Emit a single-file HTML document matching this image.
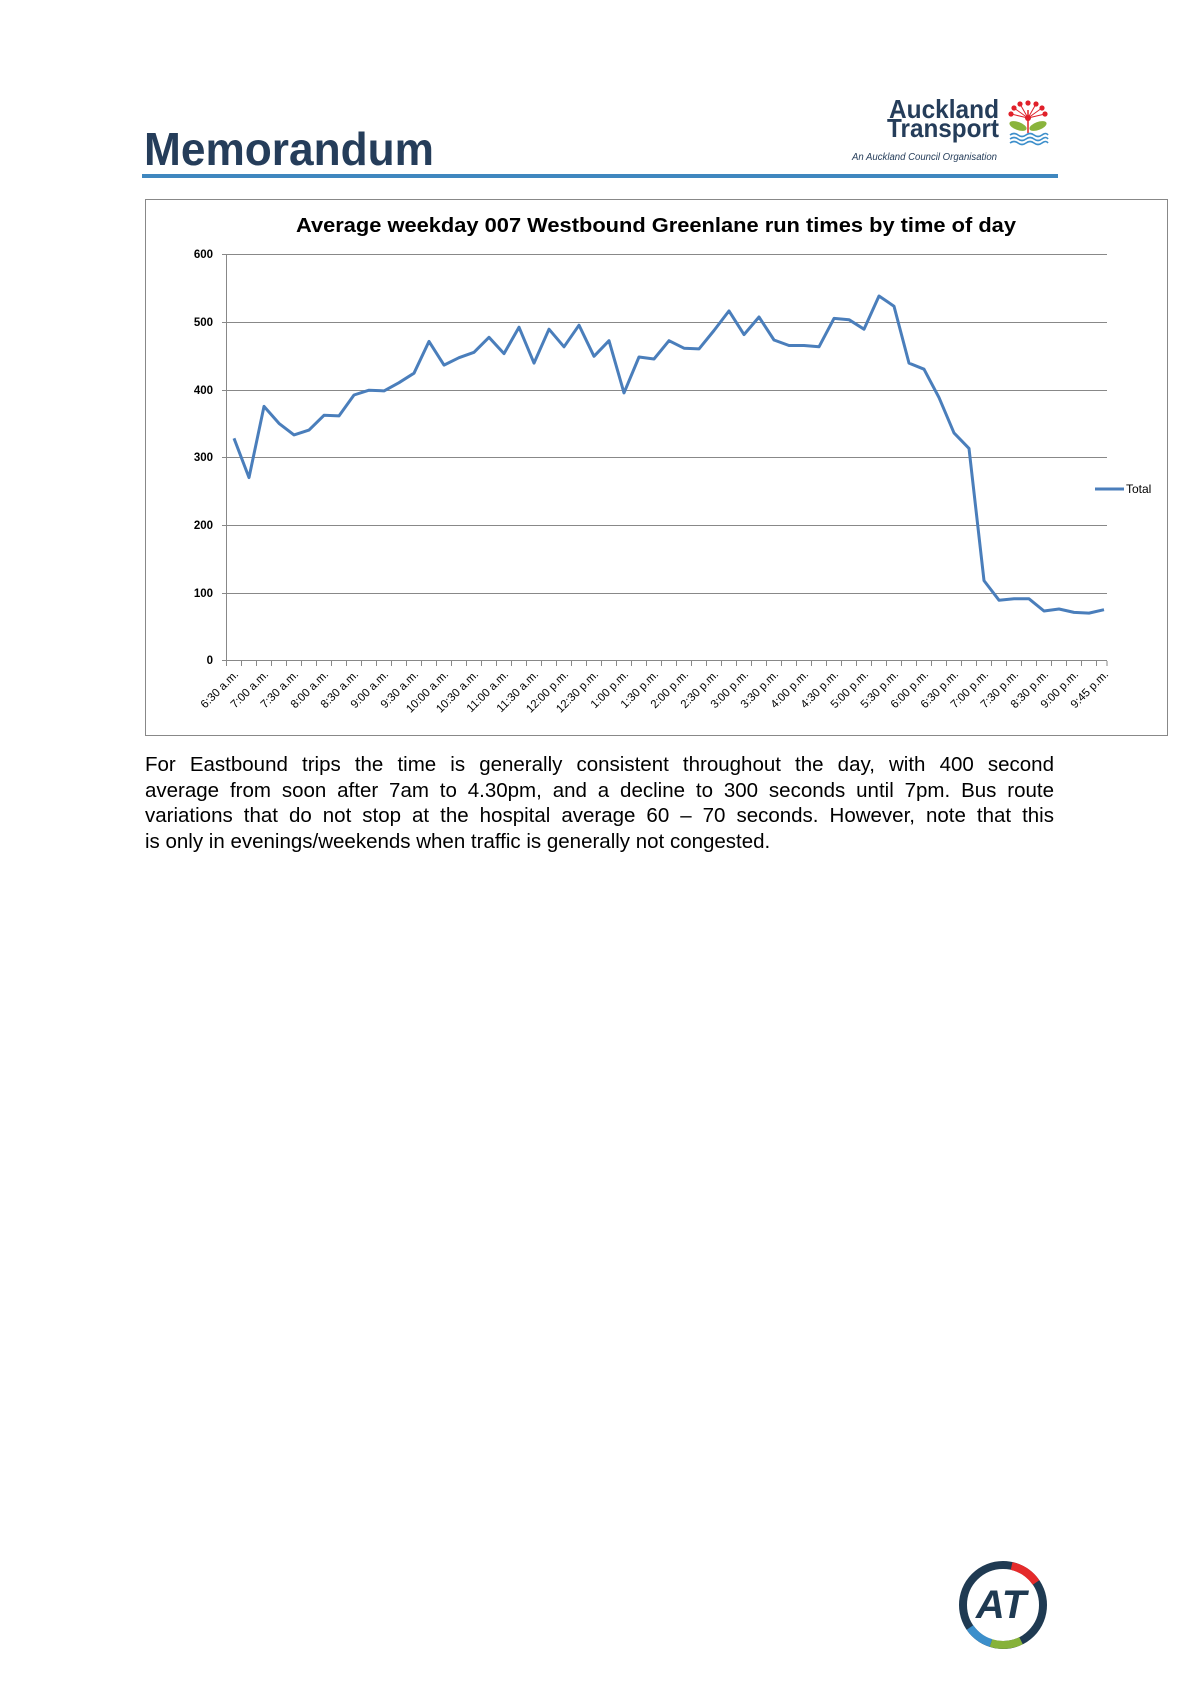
<!DOCTYPE html>
<html><head><meta charset="utf-8"><style>
html,body{margin:0;padding:0;background:#fff;}
body{width:1190px;height:1684px;position:relative;overflow:hidden;}
svg{position:absolute;left:0;top:0;}
.p{position:absolute;left:145px;top:752px;width:909px;font-family:"Liberation Sans",Arial,sans-serif;font-size:20.5px;line-height:25.6px;color:#000;}
.p span{display:block;white-space:nowrap;text-align:justify;text-align-last:justify;}
.p span.l{text-align-last:left;}
</style></head><body>
<svg width="1190" height="1684" viewBox="0 0 1190 1684" xmlns="http://www.w3.org/2000/svg" font-family="Liberation Sans, Arial, sans-serif">
<text x="144" y="165" font-size="46" font-weight="bold" fill="#253d5a" textLength="290" lengthAdjust="spacingAndGlyphs">Memorandum</text>
<rect x="142" y="174" width="916" height="4" fill="#3f87bf"/>
<text x="889" y="118" font-size="26" font-weight="bold" fill="#253d5a" textLength="110" lengthAdjust="spacingAndGlyphs">Auckland</text>
<text x="887" y="137" font-size="26" font-weight="bold" fill="#253d5a" textLength="112" lengthAdjust="spacingAndGlyphs">Transport</text>
<text x="852" y="160" font-size="10" font-style="italic" fill="#253d5a" textLength="145" lengthAdjust="spacingAndGlyphs">An Auckland Council Organisation</text>
<g>
<line x1="1028" y1="133" x2="1028" y2="110" stroke="#d22" stroke-width="1.5"/>
<g fill="#e0202a"><circle cx="1028" cy="103" r="2.6"/><circle cx="1020" cy="104" r="2.6"/><circle cx="1036" cy="104" r="2.6"/><circle cx="1014" cy="108" r="2.6"/><circle cx="1042" cy="108" r="2.6"/><circle cx="1011" cy="114" r="2.6"/><circle cx="1045" cy="114" r="2.6"/><circle cx="1028" cy="118" r="3"/></g>
<g stroke="#e0202a" stroke-width="1"><line x1="1028" y1="118" x2="1020" y2="104"/><line x1="1028" y1="118" x2="1036" y2="104"/><line x1="1028" y1="118" x2="1014" y2="108"/><line x1="1028" y1="118" x2="1042" y2="108"/><line x1="1028" y1="118" x2="1011" y2="114"/><line x1="1028" y1="118" x2="1045" y2="114"/></g>
<ellipse cx="1018" cy="126" rx="9" ry="4" fill="#8ab43c" transform="rotate(20 1018 126)"/>
<ellipse cx="1038" cy="126" rx="9" ry="4" fill="#8ab43c" transform="rotate(-20 1038 126)"/>
<g stroke="#3d8fcb" stroke-width="1.6" fill="none"><path d="M1010 135q4-3 8 0t8 0t8 0t8 0t6 0"/><path d="M1010 139q4-3 8 0t8 0t8 0t8 0t6 0"/><path d="M1010 143q4-3 8 0t8 0t8 0t8 0t6 0"/></g>
</g>
<rect x="145.5" y="199.5" width="1022" height="536" fill="none" stroke="#888" stroke-width="1"/>
<text x="656" y="232" font-size="20" font-weight="bold" text-anchor="middle" fill="#000" textLength="720" lengthAdjust="spacingAndGlyphs">Average weekday 007 Westbound Greenlane run times by time of day</text>
<g stroke="#888" stroke-width="1">
<line x1="222" y1="254.5" x2="1107" y2="254.5"/><line x1="222" y1="322.5" x2="1107" y2="322.5"/><line x1="222" y1="390.5" x2="1107" y2="390.5"/><line x1="222" y1="457.5" x2="1107" y2="457.5"/><line x1="222" y1="525.5" x2="1107" y2="525.5"/><line x1="222" y1="593.5" x2="1107" y2="593.5"/><line x1="222" y1="660.5" x2="1107" y2="660.5"/>
<line x1="226.5" y1="254" x2="226.5" y2="661"/>
</g>
<g font-size="11.5" font-weight="bold" text-anchor="end" fill="#000">
<text x="213" y="258">600</text><text x="213" y="326">500</text><text x="213" y="394">400</text><text x="213" y="461">300</text><text x="213" y="529">200</text><text x="213" y="597">100</text><text x="213" y="664">0</text>
</g>
<path stroke="#888" stroke-width="1" d="M226.5 661v5M241.5 661v5M256.5 661v5M271.5 661v5M286.5 661v5M301.5 661v5M316.5 661v5M331.5 661v5M346.5 661v5M361.5 661v5M376.5 661v5M391.5 661v5M406.5 661v5M421.5 661v5M436.5 661v5M451.5 661v5M466.5 661v5M481.5 661v5M496.5 661v5M511.5 661v5M526.5 661v5M541.5 661v5M556.5 661v5M571.5 661v5M586.5 661v5M601.5 661v5M616.5 661v5M631.5 661v5M646.5 661v5M661.5 661v5M676.5 661v5M691.5 661v5M706.5 661v5M721.5 661v5M736.5 661v5M751.5 661v5M766.5 661v5M781.5 661v5M796.5 661v5M811.5 661v5M826.5 661v5M841.5 661v5M856.5 661v5M871.5 661v5M886.5 661v5M901.5 661v5M916.5 661v5M931.5 661v5M946.5 661v5M961.5 661v5M976.5 661v5M991.5 661v5M1006.5 661v5M1021.5 661v5M1036.5 661v5M1051.5 661v5M1066.5 661v5M1081.5 661v5M1096.5 661v5M1107 661v5"/>
<polyline fill="none" stroke="#4a7ebb" stroke-width="3" stroke-linejoin="round" points="234,438.3 249,477.6 264,406.4 279,423.4 294,434.9 309,430.1 324,415.3 339,415.9 354,395 369,390.2 384,390.9 399,382.7 414,373.2 429,341.4 444,365.1 459,357.7 474,352.3 489,337.3 504,353.6 519,327.2 534,363.1 549,329.2 564,346.8 579,325.2 594,356.3 609,340.7 624,392.9 639,357 654,359 669,340.7 684,348.2 699,348.9 714,330.5 729,310.9 744,334.6 759,317 774,340 789,345.5 804,345.5 819,346.8 834,318.4 849,319.7 864,329.2 879,296 894,306.2 909,363.1 924,369.2 939,397.6 954,432.9 969,448.4 984,580.6 999,600.2 1014,598.8 1029,598.8 1044,611 1059,609 1074,612.4 1089,613.1 1104,609.7"/>
<line x1="1095" y1="489" x2="1124" y2="489" stroke="#4a7ebb" stroke-width="3"/>
<text x="1126" y="493" font-size="12" fill="#000">Total</text>
<g font-size="11.5" text-anchor="end" fill="#000">
<text transform="translate(239,675) rotate(-45)">6:30 a.m.</text>
<text transform="translate(269,675) rotate(-45)">7:00 a.m.</text>
<text transform="translate(299,675) rotate(-45)">7:30 a.m.</text>
<text transform="translate(329,675) rotate(-45)">8:00 a.m.</text>
<text transform="translate(359,675) rotate(-45)">8:30 a.m.</text>
<text transform="translate(389,675) rotate(-45)">9:00 a.m.</text>
<text transform="translate(419,675) rotate(-45)">9:30 a.m.</text>
<text transform="translate(449,675) rotate(-45)">10:00 a.m.</text>
<text transform="translate(479,675) rotate(-45)">10:30 a.m.</text>
<text transform="translate(509,675) rotate(-45)">11:00 a.m.</text>
<text transform="translate(539,675) rotate(-45)">11:30 a.m.</text>
<text transform="translate(569,675) rotate(-45)">12:00 p.m.</text>
<text transform="translate(599,675) rotate(-45)">12:30 p.m.</text>
<text transform="translate(629,675) rotate(-45)">1:00 p.m.</text>
<text transform="translate(659,675) rotate(-45)">1:30 p.m.</text>
<text transform="translate(689,675) rotate(-45)">2:00 p.m.</text>
<text transform="translate(719,675) rotate(-45)">2:30 p.m.</text>
<text transform="translate(749,675) rotate(-45)">3:00 p.m.</text>
<text transform="translate(779,675) rotate(-45)">3:30 p.m.</text>
<text transform="translate(809,675) rotate(-45)">4:00 p.m.</text>
<text transform="translate(839,675) rotate(-45)">4:30 p.m.</text>
<text transform="translate(869,675) rotate(-45)">5:00 p.m.</text>
<text transform="translate(899,675) rotate(-45)">5:30 p.m.</text>
<text transform="translate(929,675) rotate(-45)">6:00 p.m.</text>
<text transform="translate(959,675) rotate(-45)">6:30 p.m.</text>
<text transform="translate(989,675) rotate(-45)">7:00 p.m.</text>
<text transform="translate(1019,675) rotate(-45)">7:30 p.m.</text>
<text transform="translate(1049,675) rotate(-45)">8:30 p.m.</text>
<text transform="translate(1079,675) rotate(-45)">9:00 p.m.</text>
<text transform="translate(1109,675) rotate(-45)">9:45 p.m.</text>
</g>
<g transform="translate(1003,1605)">
<circle r="40" fill="none" stroke="#1f3a52" stroke-width="8"/>
<path d="M8.6 -39 A40 40 0 0 1 33 -22.5" fill="none" stroke="#e52b2b" stroke-width="8"/>
<path d="M-33 22.5 A40 40 0 0 0 -12 38" fill="none" stroke="#3c8fcb" stroke-width="8"/>
<path d="M-12 38 A40 40 0 0 0 18 35.7" fill="none" stroke="#86b23a" stroke-width="8"/>
<text x="-2" y="13" font-size="40" font-weight="bold" font-style="italic" text-anchor="middle" fill="#1f3a52">AT</text>
</g>
</svg>
<div class="p"><span>For Eastbound trips the time is generally consistent throughout the day, with 400 second</span><span>average from soon after 7am to 4.30pm, and a decline to 300 seconds until 7pm. Bus route</span><span>variations that do not stop at the hospital average 60 – 70 seconds. However, note that this</span><span class="l">is only in evenings/weekends when traffic is generally not congested.</span></div>
</body></html>
